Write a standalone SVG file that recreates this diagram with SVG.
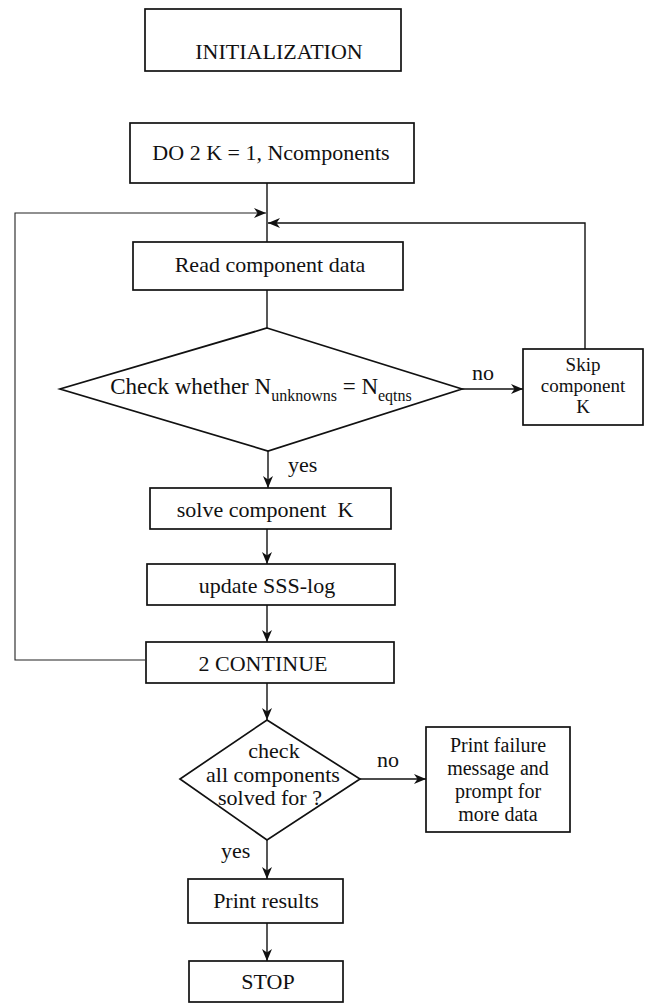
<svg xmlns="http://www.w3.org/2000/svg" width="647" height="1004" viewBox="0 0 647 1004">
  <style>
    .box { fill: #fff; stroke: #111; stroke-width: 1.7; }
    .dia { fill: #fff; stroke: #111; stroke-width: 1.7; }
    .wire { fill: none; stroke: #111; stroke-width: 1.4; }
    .thin { fill: none; stroke: #222; stroke-width: 1.1; }
    text { font-family: "Liberation Serif", "Times New Roman", serif; font-size: 22px; fill: #111; text-anchor: middle; }
    .lbl { text-anchor: start; }
    .big { font-size: 23px; }
    .sub { font-size: 16px; }
    .small { font-size: 19px; }
    .mid { font-size: 20px; }
  </style>
  <defs>
    <marker id="arrow" viewBox="0 0 12 10" refX="12" refY="5" markerWidth="12" markerHeight="10" markerUnits="userSpaceOnUse" orient="auto">
      <path d="M0,0 L12,5 L0,10 L3.5,5 z" fill="#111"/>
    </marker>
  </defs>
  <rect width="647" height="1004" fill="#fff"/>

  <g id="connectors">
    <path class="wire" d="M267,183 V242"/>
    <path class="thin" d="M145,660 H15 V213 H266" marker-end="url(#arrow)"/>
    <path class="wire" d="M585,349 V223 H268" marker-end="url(#arrow)"/>
    <path class="wire" d="M267,290 V328"/>
    <path class="wire" d="M462,389 H523" marker-end="url(#arrow)"/>
    <path class="wire" d="M268,451 V488" marker-end="url(#arrow)"/>
    <path class="wire" d="M267,529 V564" marker-end="url(#arrow)"/>
    <path class="wire" d="M267,605 V642" marker-end="url(#arrow)"/>
    <path class="wire" d="M267,683 V720" marker-end="url(#arrow)"/>
    <path class="wire" d="M360,779 H426" marker-end="url(#arrow)"/>
    <path class="wire" d="M267,840 V879" marker-end="url(#arrow)"/>
    <path class="wire" d="M267,923 V961" marker-end="url(#arrow)"/>
    <text class="lbl" x="472" y="380">no</text>
    <text class="lbl" x="288" y="472">yes</text>
    <text class="lbl" x="377" y="767">no</text>
    <text class="lbl" x="221" y="858">yes</text>
  </g>

  <g id="init">
    <rect class="box" x="145" y="9" width="256" height="62"/>
    <text x="279" y="59">INITIALIZATION</text>
  </g>

  <g id="do-loop">
    <rect class="box" x="130" y="123" width="284" height="60"/>
    <text x="271" y="160">DO 2 K = 1, Ncomponents</text>
  </g>

  <g id="read">
    <rect class="box" x="133" y="242" width="270" height="48"/>
    <text x="270" y="272">Read component data</text>
  </g>

  <g id="check-eqns">
    <polygon class="dia" points="267,328 462,389 268,451 60,389"/>
    <text class="big" x="261" y="394">Check whether N<tspan class="sub" dy="7">unknowns</tspan><tspan dy="-7"> = N</tspan><tspan class="sub" dy="7">eqtns</tspan></text>
  </g>

  <g id="skip">
    <rect class="box" x="523" y="349" width="120" height="76"/>
    <text class="small" x="583" y="371">Skip</text>
    <text class="small" x="583" y="392">component</text>
    <text class="small" x="583" y="413">K</text>
  </g>

  <g id="solve">
    <rect class="box" x="150" y="488" width="241" height="41"/>
    <text x="265" y="517" xml:space="preserve">solve component  K</text>
  </g>

  <g id="update">
    <rect class="box" x="147" y="564" width="248" height="41"/>
    <text x="267" y="593">update SSS-log</text>
  </g>

  <g id="continue">
    <rect class="box" x="146" y="642" width="248" height="41"/>
    <text x="263" y="671">2 CONTINUE</text>
  </g>

  <g id="check-all">
    <polygon class="dia" points="267,720 360,779 267,840 180,779"/>
    <text x="274" y="758">check</text>
    <text x="273" y="782">all components</text>
    <text x="270" y="805">solved for ?</text>
  </g>

  <g id="failure">
    <rect class="box" x="426" y="727" width="144" height="105"/>
    <text class="mid" x="498" y="752">Print failure</text>
    <text class="mid" x="498" y="775">message and</text>
    <text class="mid" x="498" y="798">prompt for</text>
    <text class="mid" x="498" y="821">more data</text>
  </g>

  <g id="results">
    <rect class="box" x="188" y="879" width="155" height="44"/>
    <text x="266" y="908">Print results</text>
  </g>

  <g id="stop">
    <rect class="box" x="189" y="961" width="154" height="41"/>
    <text x="268" y="989">STOP</text>
  </g>
</svg>
